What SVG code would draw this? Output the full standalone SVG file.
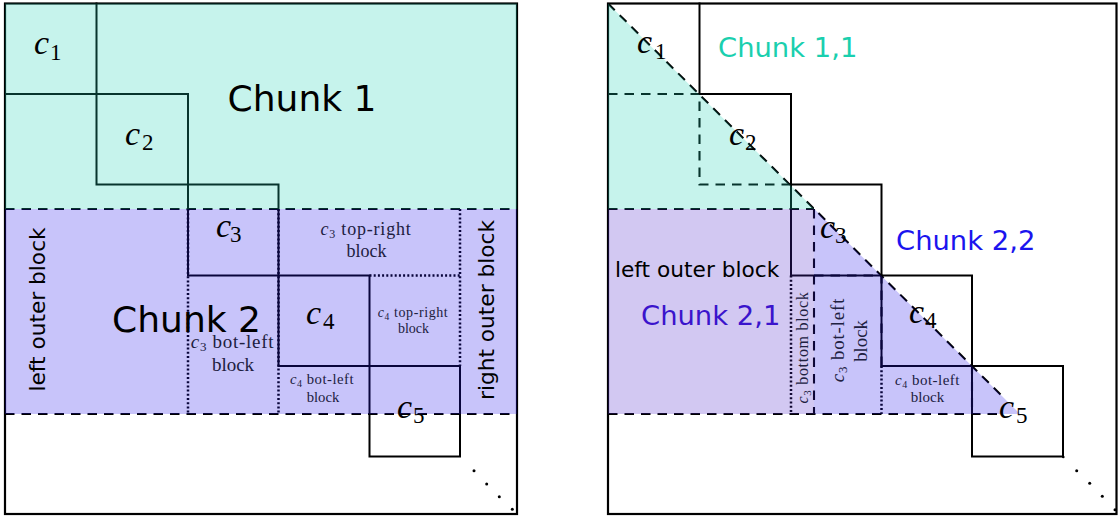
<svg xmlns="http://www.w3.org/2000/svg" width="1119" height="518" viewBox="0 0 1119 518">
  <defs>
    <style>
      .frame { fill: none; stroke: #000; stroke-width: 2.2; }
      .solid { fill: none; stroke: #000; stroke-width: 2; stroke-linecap: square; }
      .dash  { fill: none; stroke: #000; stroke-width: 2.1; stroke-dasharray: 9.5 7; }
      .dot   { fill: none; stroke: #000; stroke-width: 2.5; stroke-dasharray: 2 2.2; }
      .tint-cyan   { fill: #1bcfb3; fill-opacity: 0.25; }
      .tint-purple { fill: #2313eb; fill-opacity: 0.25; }
      .tint-lav    { fill: #4b23cb; fill-opacity: 0.25; }
      .math { font-family: "Liberation Serif", "DejaVu Serif", serif; font-style: italic; font-size: 34px; fill: #000; }
      .math .sub { font-style: normal; font-size: 23px; }
      .sans { font-family: "DejaVu Sans", "Liberation Sans", sans-serif; fill: #000; }
      .big { font-size: 36px; }
      .mid { font-size: 27.4px; }
      .side { font-size: 21.7px; }
      .lbl { font-family: "Liberation Serif", "DejaVu Serif", serif; fill: #202040; text-anchor: middle; }
      .lbl .it { font-style: italic; }
      .pt { fill: #000; }
    </style>
  </defs>

  <rect x="0" y="0" width="1119" height="518" fill="#fff"/>

  <!-- ===================== left panel: row chunks ===================== -->
  <g id="left-panel">
    <g id="left-lines">
      <!-- diagonal blocks c1..c5 -->
      <path class="solid" d="M96.5 3.5 V94 H5"/>
      <rect class="solid" x="96.5" y="94" width="91.5" height="90.5"/>
      <rect class="solid" x="188" y="184.5" width="90.5" height="91"/>
      <rect class="solid" x="278.5" y="275.5" width="91" height="90.5"/>
      <rect class="solid" x="369.5" y="366" width="90.5" height="90.5"/>
      <!-- chunk borders -->
      <line class="dash" x1="5" y1="209" x2="517" y2="209"/>
      <line class="dash" x1="5" y1="414" x2="517" y2="414"/>
      <!-- sub-block borders -->
      <line class="dot" x1="188" y1="209" x2="188" y2="414"/>
      <line class="dot" x1="278.5" y1="209" x2="278.5" y2="414"/>
      <line class="dot" x1="369.5" y1="275.5" x2="460" y2="275.5"/>
      <line class="dot" x1="460" y1="209" x2="460" y2="366"/>
      <rect class="frame" x="5" y="3.5" width="512" height="510.5"/>
    </g>
    <!-- chunk shading -->
    <rect id="chunk1" class="tint-cyan" x="5" y="3.5" width="512" height="205.5"/>
    <rect id="chunk2" class="tint-purple" x="5" y="209" width="512" height="205"/>

    <g id="left-labels">
      <text class="math" x="34" y="54">c<tspan class="sub" x="50" y="60">1</tspan></text>
      <text class="math" x="125" y="145">c<tspan class="sub" x="142" y="150">2</tspan></text>
      <text class="math" x="216" y="237">c<tspan class="sub" x="230" y="242">3</tspan></text>
      <text class="math" x="306" y="324">c<tspan class="sub" x="323" y="329">4</tspan></text>
      <text class="math" x="397" y="418">c<tspan class="sub" x="413" y="423">5</tspan></text>

      <text class="sans big" x="302" y="111" text-anchor="middle">Chunk 1</text>
      <text class="sans big" x="186.5" y="332" text-anchor="middle">Chunk 2</text>
      <text class="sans side" transform="translate(45 309.5) rotate(-90)" text-anchor="middle">left outer block</text>
      <text class="sans side" transform="translate(494 310) rotate(-90)" text-anchor="middle">right outer block</text>

      <text class="lbl" x="366" y="235" style="font-size:18px;letter-spacing:0.8px"><tspan class="it">c</tspan><tspan font-size="12" dy="3">3</tspan><tspan dy="-3"> top-right</tspan></text>
      <text class="lbl" x="366.5" y="257" style="font-size:18px">block</text>
      <text class="lbl" x="413" y="317" style="font-size:14px;letter-spacing:0.6px"><tspan class="it">c</tspan><tspan font-size="9.5" dy="2.5">4</tspan><tspan dy="-2.5"> top-right</tspan></text>
      <text class="lbl" x="413.5" y="333" style="font-size:14px">block</text>
      <text class="lbl" x="232.5" y="348" style="font-size:19px;letter-spacing:0.7px"><tspan class="it">c</tspan><tspan font-size="13" dy="3">3</tspan><tspan dy="-3"> bot-left</tspan></text>
      <text class="lbl" x="233" y="371" style="font-size:19px">block</text>
      <text class="lbl" x="322" y="384" style="font-size:14.7px;letter-spacing:0.5px"><tspan class="it">c</tspan><tspan font-size="10" dy="2.5">4</tspan><tspan dy="-2.5"> bot-left</tspan></text>
      <text class="lbl" x="323" y="402" style="font-size:14.7px">block</text>

      <circle class="pt" cx="474" cy="470.7" r="1.5"/>
      <circle class="pt" cx="486.7" cy="484" r="1.5"/>
      <circle class="pt" cx="499.3" cy="496.7" r="1.5"/>
      <circle class="pt" cx="512.3" cy="509.3" r="1.5"/>
    </g>
  </g>

  <!-- ===================== right panel: 2-D chunks ===================== -->
  <g id="right-panel">
    <g id="right-lines">
      <!-- upper edges of the diagonal blocks -->
      <line class="solid" x1="699.5" y1="3.5" x2="699.5" y2="94"/>
      <path class="solid" d="M699.5 94 H791 V184.5"/>
      <rect class="solid" x="791" y="184.5" width="90.5" height="91"/>
      <rect class="solid" x="881.5" y="275.5" width="90.5" height="90.5"/>
      <rect class="solid" x="972" y="366" width="91" height="90.5"/>
      <!-- lower staircase of chunk 1,1 -->
      <path class="dash" d="M608 94 H699.5 V184.5 H791"/>
      <!-- chunk 2,1 / 2,2 borders -->
      <line class="dash" x1="608" y1="209" x2="814" y2="209"/>
      <line class="dash" x1="814" y1="209" x2="814" y2="414"/>
      <line class="dash" x1="608" y1="414" x2="1003" y2="414"/>
      <path class="dash" d="M814 275.5 H881.5 V366 H972 V414"/>
      <!-- diagonal split -->
      <line class="dash" x1="608" y1="3.5" x2="1003" y2="397"/>
      <!-- sub-block borders -->
      <line class="dot" x1="791" y1="275.5" x2="791" y2="414"/>
      <line class="dot" x1="881.5" y1="366" x2="881.5" y2="414"/>
      <rect class="frame" x="608" y="3.5" width="508.5" height="510.5"/>
    </g>
    <!-- chunk shading -->
    <polygon id="chunk11" class="tint-cyan" points="608,3.5 814.3,209 608,209"/>
    <rect id="chunk21" class="tint-lav" x="608" y="209" width="206" height="205"/>
    <polygon id="chunk22" class="tint-purple" points="814,209 814.3,209 1020,414 814,414"/>

    <g id="right-labels">
      <text class="math" x="637" y="53">c<tspan class="sub" x="655" y="59">1</tspan></text>
      <text class="math" x="729" y="145">c<tspan class="sub" x="745" y="150">2</tspan></text>
      <text class="math" x="820" y="238">c<tspan class="sub" x="835" y="243">3</tspan></text>
      <text class="math" x="909" y="323">c<tspan class="sub" x="925" y="328">4</tspan></text>
      <text class="math" x="999" y="418">c<tspan class="sub" x="1016" y="423">5</tspan></text>

      <text class="sans mid" x="718" y="57" style="fill:#1acfae">Chunk 1,1</text>
      <text class="sans mid" x="896" y="250" style="fill:#1b14ee">Chunk 2,2</text>
      <text class="sans mid" x="641" y="324.5" style="fill:#3a14cc">Chunk 2,1</text>
      <text class="sans side" x="615" y="277">left outer block</text>

      <text class="lbl" transform="translate(808 347.5) rotate(-90)" style="font-size:16px;letter-spacing:0.7px"><tspan class="it">c</tspan><tspan font-size="11" dy="2.5">3</tspan><tspan dy="-2.5"> bottom block</tspan></text>
      <text class="lbl" transform="translate(844 340) rotate(-90)" style="font-size:18.8px;letter-spacing:0.9px"><tspan class="it">c</tspan><tspan font-size="13" dy="3">3</tspan><tspan dy="-3"> bot-left</tspan></text>
      <text class="lbl" transform="translate(867 341) rotate(-90)" style="font-size:18.8px">block</text>
      <text class="lbl" x="927.5" y="385" style="font-size:15px;letter-spacing:0.5px"><tspan class="it">c</tspan><tspan font-size="10" dy="2.5">4</tspan><tspan dy="-2.5"> bot-left</tspan></text>
      <text class="lbl" x="927.5" y="402.3" style="font-size:15px">block</text>

      <circle class="pt" cx="1063.3" cy="457" r="1.3"/>
      <circle class="pt" cx="1076.7" cy="470.7" r="1.5"/>
      <circle class="pt" cx="1089.7" cy="483.3" r="1.5"/>
      <circle class="pt" cx="1102.3" cy="496.3" r="1.5"/>
      <circle class="pt" cx="1115" cy="509.7" r="1.5"/>
    </g>
  </g>
</svg>
